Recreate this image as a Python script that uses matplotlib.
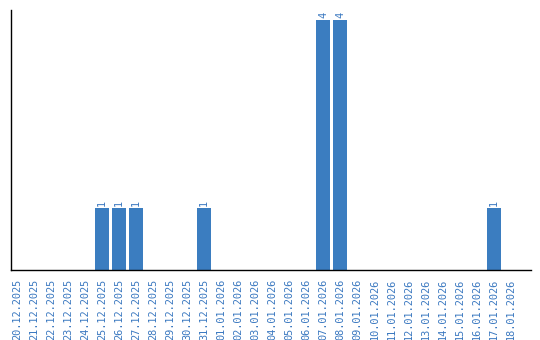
import matplotlib
matplotlib.use("Agg")
import matplotlib.pyplot as plt
import numpy as np

dates = ["20.12.2025", "21.12.2025", "22.12.2025", "23.12.2025", "24.12.2025",
         "25.12.2025", "26.12.2025", "27.12.2025", "28.12.2025", "29.12.2025",
         "30.12.2025", "31.12.2025", "01.01.2026", "02.01.2026", "03.01.2026",
         "04.01.2026", "05.01.2026", "06.01.2026", "07.01.2026", "08.01.2026",
         "09.01.2026", "10.01.2026", "11.01.2026", "12.01.2026", "13.01.2026",
         "14.01.2026", "15.01.2026", "16.01.2026", "17.01.2026", "18.01.2026"]
counts = [0, 0, 0, 0, 0, 1, 1, 1, 0, 0, 0, 1, 0, 0, 0, 0, 0, 0, 4, 4,
          0, 0, 0, 0, 0, 0, 0, 0, 1, 0]

blue = "#3b7dc0"
text_blue = "#3a78c0"
font = "DejaVu Sans Mono"

fig = plt.figure(figsize=(5.4, 3.4), dpi=100)
ax = fig.add_axes([11/540, 70/340, 520/540, 260/340])

x = np.arange(len(dates))
bars = ax.bar(x, counts, width=0.82, color=blue)
for xi, c in zip(x, counts):
    if c > 0:
        ax.text(xi, c + 0.03, str(c), rotation=90, ha="center", va="bottom",
                color=text_blue, fontsize=7.4, family=font)

ax.set_xlim(-0.35, 30.2)
ax.set_ylim(0, 4.16)
ax.set_xticks(x)
ax.set_xticklabels(dates, rotation=90, color=text_blue, fontsize=7.4, family=font)
ax.tick_params(axis="x", length=0, pad=6)
ax.set_yticks([])
for s in ["top", "right"]:
    ax.spines[s].set_visible(False)
ax.spines["left"].set_linewidth(1)
ax.spines["bottom"].set_linewidth(1)

fig.savefig("out.png", dpi=100)
